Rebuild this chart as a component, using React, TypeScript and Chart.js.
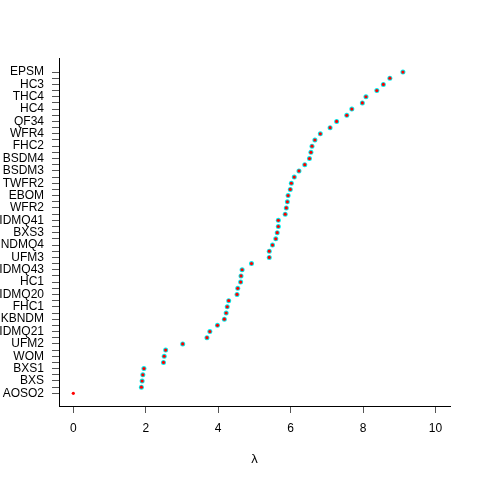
import React, { useEffect, useRef } from "react";
import { Chart, registerables } from "chart.js";

Chart.register(...registerables);

// Row labels visible on the axis (odd rows, bottom to top)
const visibleLabels = [
  "AOSO2", "BXS", "BXS1", "WOM", "UFM2", "IDMQ21", "KBNDM", "FHC1", "IDMQ20",
  "HC1", "IDMQ43", "UFM3", "NDMQ4", "BXS3", "IDMQ41", "WFR2", "EBOM", "TWFR2",
  "BSDM3", "BSDM4", "FHC2", "WFR4", "QF34", "HC4", "THC4", "HC3", "EPSM",
];

// lambda estimates for rows 1..53 (bottom to top)
const redValues = [
  0.0, 1.88, 1.9, 1.92, 1.95, 2.49, 2.51, 2.55, 3.02, 3.69,
  3.77, 3.98, 4.17, 4.22, 4.25, 4.29, 4.52, 4.54, 4.62, 4.63,
  4.66, 4.92, 5.41, 5.41, 5.5, 5.59, 5.63, 5.66, 5.66, 5.85,
  5.88, 5.91, 5.93, 5.99, 6.02, 6.1, 6.23, 6.39, 6.52, 6.56,
  6.59, 6.67, 6.82, 7.09, 7.27, 7.55, 7.69, 7.98, 8.08, 8.38,
  8.56, 8.74, 9.1,
];

const cyanValues = [
  null, 1.88, 1.9, 1.92, 1.95, 2.49, 2.51, 2.55, 3.02, 3.69,
  3.77, 3.98, 4.17, 4.22, 4.25, 4.29, 4.52, 4.54, 4.62, 4.63,
  4.66, 4.92, 5.41, 5.41, 5.5, 5.59, 5.63, 5.66, 5.66, 5.85,
  5.88, 5.91, 5.93, 5.99, 6.02, 6.1, 6.23, 6.39, 6.52, 6.56,
  6.59, 6.67, 6.82, 7.09, 7.27, 7.55, 7.69, 7.98, 8.08, 8.38,
  8.56, 8.74, 9.1,
];

const xTicks = [0, 2, 4, 6, 8, 10];
const xTitle = "λ";

const FONT = "'Liberation Sans', Arial, Helvetica, sans-serif";

export default function App() {
  const ref = useRef<HTMLCanvasElement | null>(null);

  useEffect(() => {
    if (!ref.current) return;
    const rows = redValues.map((_, i) => i + 1);
    const chart = new Chart(ref.current, {
      type: "scatter",
      data: {
        datasets: [
          {
            label: "red",
            order: 0,
            data: redValues.map((v, i) => ({ x: v, y: rows[i] })),
            pointRadius: 1.6,
            pointBorderWidth: 0,
            pointBackgroundColor: "#ff0000",
            pointBorderColor: "#ff0000",
          },
          {
            label: "cyan",
            order: 1,
            data: cyanValues
              .map((v, i) => (v === null ? null : { x: v, y: rows[i] }))
              .filter((d) => d !== null) as any,
            pointRadius: 2.5,
            pointBorderWidth: 0,
            pointBackgroundColor: "#00eeee",
            pointBorderColor: "#00eeee",
          },
        ],
      },
      options: {
        responsive: false,
        animation: false,
        devicePixelRatio: 1,
        layout: { padding: { top: 58, right: 30, left: 0, bottom: 0 } },
        plugins: {
          legend: { display: false },
          tooltip: { enabled: false },
        },
        scales: {
          x: {
            type: "linear",
            min: -0.395,
            max: 10.4,
            afterBuildTicks: (s: any) => {
              s.ticks = xTicks.map((v) => ({ value: v }));
            },
            afterFit: (s: any) => {
              s.height = 74;
            },
            grid: {
              drawOnChartArea: false,
              drawTicks: true,
              tickLength: 7,
              tickColor: "#555",
            },
            border: { display: true, color: "#000", width: 1 },
            ticks: {
              color: "#000",
              font: { size: 12, family: FONT },
              padding: 8,
              autoSkip: false,
              maxRotation: 0,
            },
            title: {
              display: true,
              text: xTitle,
              color: "#000",
              font: { size: 13, family: FONT },
              padding: { top: 0, bottom: 13 },
            },
          },
          y: {
            type: "linear",
            min: -1.05,
            max: 55.27,
            afterBuildTicks: (s: any) => {
              s.ticks = rows.map((v) => ({ value: v }));
            },
            afterFit: (s: any) => {
              s.width = 59;
            },
            grid: {
              drawOnChartArea: false,
              drawTicks: true,
              tickLength: 7,
              tickColor: "#555",
            },
            border: { display: true, color: "#000", width: 1 },
            ticks: {
              color: "#000",
              font: { size: 12, family: FONT },
              padding: 8,
              autoSkip: false,
              callback: (v: any) => {
                const n = Number(v);
                return n % 2 === 1 ? visibleLabels[(n - 1) / 2] : "";
              },
            },
          },
        },
      },
    });
    return () => chart.destroy();
  }, []);

  return (
    <div style={{ position: "absolute", left: 0, top: 0, width: 480, height: 480, background: "#fff" }}>
      <canvas ref={ref} width={480} height={480} style={{ width: 480, height: 480 }} />
    </div>
  );
}
